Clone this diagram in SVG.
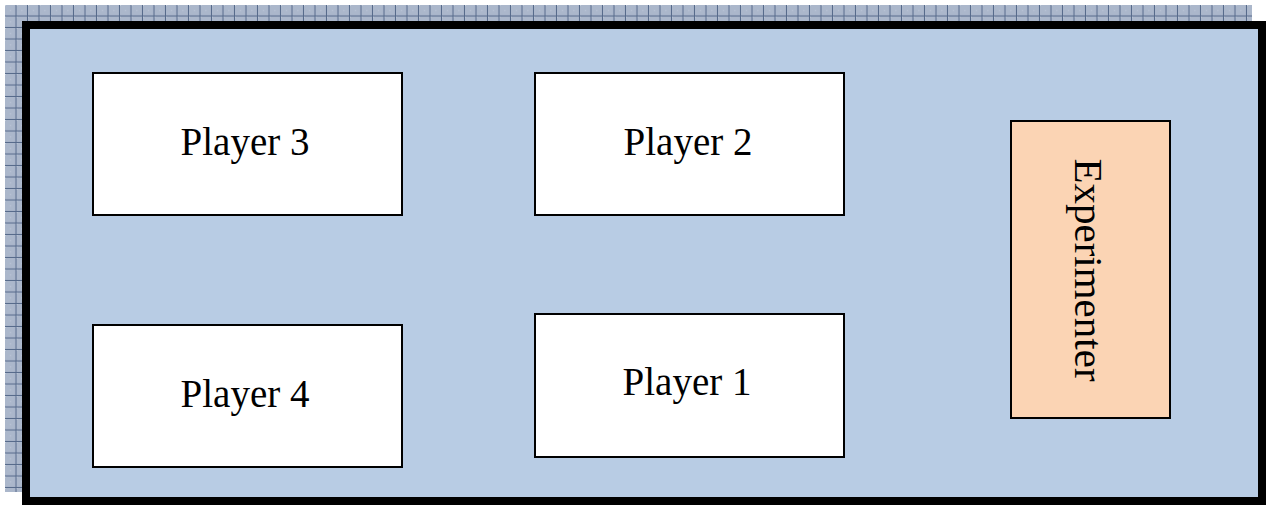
<svg xmlns="http://www.w3.org/2000/svg" width="1266" height="505" viewBox="0 0 1266 505">
  <defs>
    <pattern id="grid" x="5" y="5" width="11.5" height="11.5" patternUnits="userSpaceOnUse">
      <rect width="11.5" height="11.5" fill="#ABB7CB"/>
      <rect x="0" y="0" width="1" height="1" fill="#C4CEDD"/>
      <rect x="5" y="5" width="1" height="1" fill="#C4CEDD"/>
      <rect x="0" y="10.5" width="11.5" height="1" fill="#55698A"/>
      <rect x="10.5" y="0" width="1" height="11.5" fill="#55698A"/>
    </pattern>
  </defs>
  <style>
    .player rect { fill: #FFFFFF; stroke: #000000; stroke-width: 2; }
    .label { font-family: "Liberation Serif", "Times New Roman", serif; font-size: 39px; fill: #000000; text-anchor: middle; }
    .vlabel { font-size: 41px; }
  </style>
  <rect x="0" y="0" width="1266" height="505" fill="#FFFFFF"/>
  <g id="shadow">
    <rect x="5" y="5" width="1247" height="487" fill="url(#grid)"/>
  </g>
  <g id="room">
    <rect x="26" y="25" width="1236" height="476" fill="#B8CCE4" stroke="#000000" stroke-width="8"/>
  </g>
  <g id="player3" class="player">
    <rect x="93" y="73" width="309" height="142"/>
    <text class="label" x="245" y="155">Player 3</text>
  </g>
  <g id="player2" class="player">
    <rect x="535" y="73" width="309" height="142"/>
    <text class="label" x="688" y="155">Player 2</text>
  </g>
  <g id="player4" class="player">
    <rect x="93" y="325" width="309" height="142"/>
    <text class="label" x="245" y="407">Player 4</text>
  </g>
  <g id="player1" class="player">
    <rect x="535" y="314" width="309" height="143"/>
    <text class="label" x="687" y="395">Player 1</text>
  </g>
  <g id="experimenter">
    <rect x="1011" y="121" width="159" height="297" fill="#FBD4B4" stroke="#000000" stroke-width="2"/>
    <text class="label vlabel" transform="translate(1075,270) rotate(90)" x="0" y="0">Experimenter</text>
  </g>
  <g id="connectors"/>
</svg>
